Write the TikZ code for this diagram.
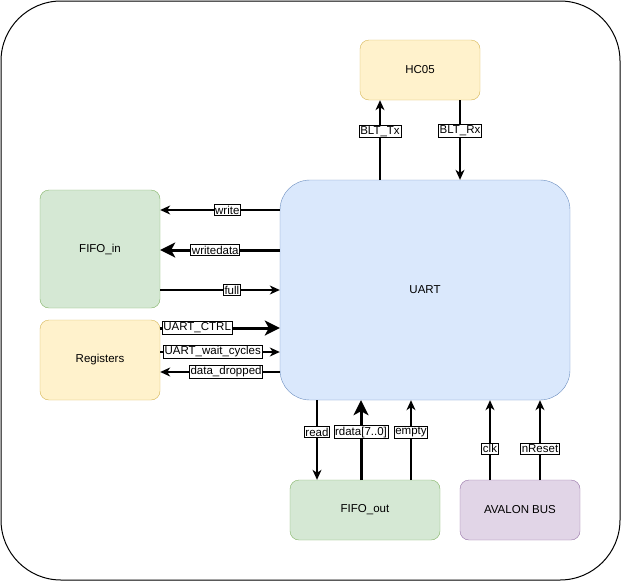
\documentclass[tikz,border=0pt]{standalone}
\usepackage{fontspec}
\setmainfont{Liberation Sans}
\usetikzlibrary{arrows.meta}

\definecolor{ylwfill}{HTML}{FFF2CC}
\definecolor{ylwline}{HTML}{D6B656}
\definecolor{bluefill}{HTML}{DAE8FC}
\definecolor{blueline}{HTML}{6C8EBF}
\definecolor{grnfill}{HTML}{D5E8D4}
\definecolor{grnline}{HTML}{82B366}
\definecolor{purfill}{HTML}{E1D5E7}
\definecolor{purline}{HTML}{9673A6}

\begin{document}
\begin{tikzpicture}[x=1pt,y=-1pt,font=\fontsize{11.5}{13}\selectfont]
      \tikzstyle{block}=[rectangle,rounded corners=9pt,minimum width=120pt,minimum height=60pt,inner sep=0pt]
      \tikzstyle{sig}=[line width=1.2pt,-{Stealth[length=10pt,width=9pt,inset=3pt]}]
      \tikzstyle{bus}=[line width=3pt,-{Stealth[length=15pt,width=15pt,inset=4pt]}]
      \tikzstyle{lbl}=[draw=black,fill=white,line width=0.8pt,inner sep=1.2pt,text=black]

      \useasboundingbox (0,0) rectangle (621,581);
      \draw[line width=1pt,rounded corners=60pt] (1,1) rectangle (620,580);

      \node[block,fill=ylwfill,draw=ylwline] (hc05) at (420,70) {HC05};
      \node[block,fill=bluefill,draw=blueline,rounded corners=30pt,minimum width=290pt,minimum height=220pt] (uart) at (425,290) {UART};
      \node[block,fill=grnfill,draw=grnline,minimum height=118pt] (fifoin) at (100,249) {FIFO\_in};
      \node[block,fill=ylwfill,draw=ylwline,minimum height=80pt] (regs) at (100,360) {Registers};
      \node[block,fill=grnfill,draw=grnline,minimum width=150pt] (fifoout) at (365,510) {FIFO\_out};
      \node[block,fill=purfill,draw=purline] (avalon) at (520,510) {AVALON BUS};

      % UART <-> HC05
      \coordinate (tx) at (380,180);
      \coordinate (rx) at (460,100);
      \draw[sig] (tx) -- (tx |- hc05.south) node[lbl,pos=.61] {BLT\_Tx};
      \draw[sig] (rx) -- (rx |- uart.north) node[lbl,pos=.39] {BLT\_Rx};

      % UART <-> FIFO_in
      \coordinate (wr) at (280,210);
      \coordinate (wd) at (280,250);
      \coordinate (fu) at (160,290);
      \draw[sig] (wr) -- (wr -| fifoin.east) node[lbl,pos=.44] {write};
      \draw[bus] (wd) -- (wd -| fifoin.east) node[lbl,pos=.54] {writedata};
      \draw[sig] (fu) -- (fu -| uart.west) node[lbl,pos=.6] {full};

      % Registers <-> UART
      \coordinate (ctrl) at (160,328);
      \coordinate (wait) at (160,352);
      \coordinate (drop) at (280,372);
      \draw[bus] (ctrl) -- (ctrl -| uart.west) node[lbl,pos=.31] {UART\_CTRL};
      \draw[sig] (wait) -- (wait -| uart.west) node[lbl,pos=.44] {UART\_wait\_cycles};
      \draw[sig] (drop) -- (drop -| regs.east) node[lbl,pos=.45] {data\_dropped};

      % UART <-> FIFO_out
      \coordinate (rd) at (317,400);
      \coordinate (rdat) at (361,480);
      \coordinate (em) at (411,480);
      \draw[sig] (rd) -- (rd |- fifoout.north) node[lbl,pos=.4] {read};
      \draw[bus] (rdat) -- (rdat |- uart.south) node[lbl,pos=.6] {rdata[7..0]};
      \draw[sig] (em) -- (em |- uart.south) node[lbl,pos=.6] {empty};

      % AVALON BUS -> UART
      \coordinate (ck) at (490,480);
      \coordinate (rst) at (540,480);
      \draw[sig] (ck) -- (ck |- uart.south) node[lbl,pos=.39] {clk};
      \draw[sig] (rst) -- (rst |- uart.south) node[lbl,pos=.39] {nReset};
\end{tikzpicture}
\end{document}
